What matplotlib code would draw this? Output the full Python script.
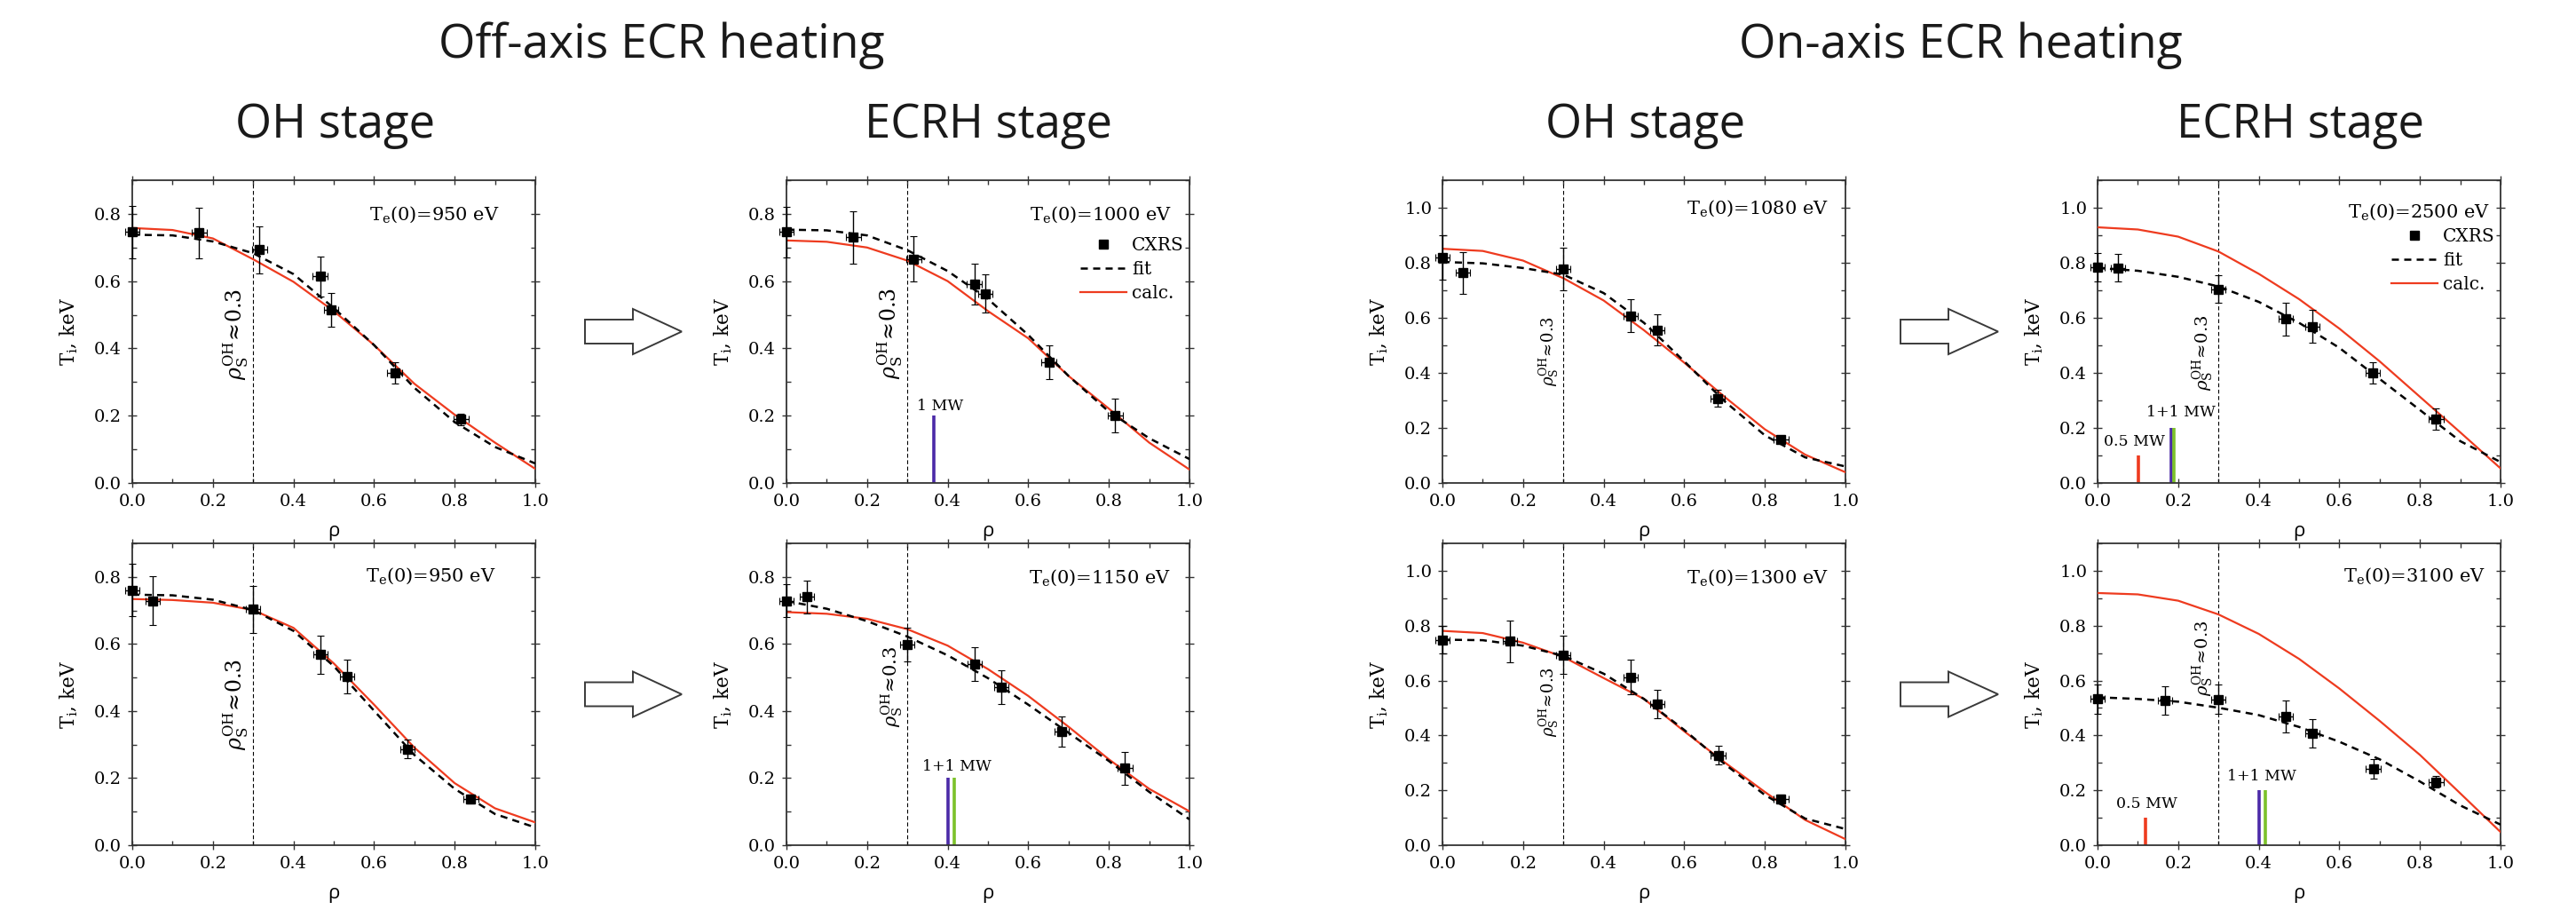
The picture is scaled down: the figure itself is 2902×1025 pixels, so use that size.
import matplotlib
matplotlib.use('Agg')
import matplotlib.pyplot as plt
from matplotlib.patches import Polygon
from matplotlib.lines import Line2D
from matplotlib.ticker import MultipleLocator

plt.rcParams['font.family'] = 'DejaVu Serif'
plt.rcParams['mathtext.fontset'] = 'dejavuserif'

# radial grid for the fit / calc curves
rho_grid = [0.0, 0.1, 0.2, 0.3, 0.4, 0.5, 0.6, 0.7, 0.8, 0.9, 1.0]

# CXRS measurement positions
rho_a = [0.0, 0.166, 0.316, 0.466, 0.493, 0.651, 0.816]
rho_b = [0.0, 0.05, 0.30, 0.467, 0.533, 0.683, 0.84]
rho_c = [0.0, 0.167, 0.30, 0.467, 0.533, 0.684, 0.84]
rho_err = 0.018

# off-axis, OH stage (top)
p1_ti = [0.746, 0.743, 0.694, 0.614, 0.515, 0.327, 0.189]
p1_err = [0.077, 0.075, 0.070, 0.060, 0.050, 0.032, 0.018]
p1_fit = [0.738, 0.736, 0.718, 0.683, 0.621, 0.520, 0.410, 0.283, 0.181, 0.107, 0.058]
p1_calc = [0.758, 0.752, 0.727, 0.665, 0.598, 0.511, 0.410, 0.295, 0.203, 0.120, 0.042]

# off-axis, ECRH stage (top)
p2_ti = [0.746, 0.730, 0.666, 0.591, 0.563, 0.360, 0.200]
p2_err = [0.075, 0.077, 0.067, 0.060, 0.057, 0.050, 0.050]
p2_fit = [0.753, 0.751, 0.736, 0.692, 0.630, 0.547, 0.440, 0.318, 0.212, 0.133, 0.071]
p2_calc = [0.721, 0.717, 0.700, 0.661, 0.600, 0.511, 0.430, 0.318, 0.221, 0.120, 0.040]

# on-axis, OH stage (top)
p3_ti = [0.819, 0.763, 0.778, 0.607, 0.556, 0.308, 0.158]
p3_err = [0.080, 0.077, 0.078, 0.060, 0.056, 0.030, 0.014]
p3_fit = [0.803, 0.798, 0.781, 0.757, 0.690, 0.582, 0.442, 0.297, 0.173, 0.093, 0.060]
p3_calc = [0.851, 0.843, 0.808, 0.744, 0.663, 0.555, 0.437, 0.313, 0.195, 0.103, 0.039]

# on-axis, ECRH stage (top)
p4_ti = [0.784, 0.781, 0.704, 0.596, 0.569, 0.400, 0.231]
p4_err = [0.051, 0.050, 0.050, 0.060, 0.060, 0.040, 0.039]
p4_fit = [0.781, 0.771, 0.749, 0.714, 0.658, 0.582, 0.491, 0.378, 0.265, 0.152, 0.076]
p4_calc = [0.929, 0.921, 0.895, 0.841, 0.760, 0.668, 0.561, 0.442, 0.313, 0.184, 0.053]

# off-axis, OH stage (bottom)
p5_ti = [0.760, 0.729, 0.703, 0.569, 0.503, 0.287, 0.138]
p5_err = [0.078, 0.073, 0.071, 0.057, 0.051, 0.028, 0.013]
p5_fit = [0.747, 0.745, 0.732, 0.701, 0.639, 0.534, 0.401, 0.269, 0.168, 0.093, 0.053]
p5_calc = [0.734, 0.731, 0.723, 0.701, 0.648, 0.542, 0.419, 0.291, 0.185, 0.110, 0.068]

# off-axis, ECRH stage (bottom)
p6_ti = [0.729, 0.740, 0.599, 0.541, 0.472, 0.340, 0.229]
p6_err = [0.050, 0.050, 0.050, 0.050, 0.050, 0.045, 0.050]
p6_fit = [0.728, 0.705, 0.668, 0.622, 0.566, 0.498, 0.419, 0.335, 0.251, 0.159, 0.077]
p6_calc = [0.695, 0.690, 0.675, 0.644, 0.595, 0.525, 0.445, 0.353, 0.256, 0.168, 0.101]

# on-axis, OH stage (bottom)
p7_ti = [0.748, 0.744, 0.693, 0.613, 0.514, 0.327, 0.169]
p7_err = [0.050, 0.076, 0.070, 0.062, 0.052, 0.034, 0.016]
p7_fit = [0.749, 0.747, 0.727, 0.690, 0.625, 0.533, 0.420, 0.296, 0.183, 0.097, 0.059]
p7_calc = [0.781, 0.773, 0.738, 0.686, 0.609, 0.533, 0.415, 0.302, 0.194, 0.092, 0.022]

# on-axis, ECRH stage (bottom)
p8_ti = [0.533, 0.528, 0.531, 0.469, 0.407, 0.278, 0.231]
p8_err = [0.053, 0.052, 0.053, 0.057, 0.052, 0.035, 0.022]
p8_fit = [0.539, 0.533, 0.523, 0.501, 0.474, 0.431, 0.377, 0.313, 0.232, 0.145, 0.075]
p8_calc = [0.919, 0.914, 0.891, 0.841, 0.770, 0.679, 0.571, 0.453, 0.329, 0.189, 0.048]

te0 = [950, 1000, 1080, 2500, 950, 1150, 1300, 3100]

# ECRH deposition: (rho, height, colour key)
ecrh_p2 = [(0.366, 0.2, 'blue')]
ecrh_p4 = [(0.101, 0.1, 'red'), (0.182, 0.2, 'blue'), (0.189, 0.2, 'green')]
ecrh_p6 = [(0.400, 0.2, 'blue'), (0.416, 0.2, 'green')]
ecrh_p8 = [(0.120, 0.1, 'red'), (0.400, 0.2, 'blue'), (0.416, 0.2, 'green')]
# power labels: (rho, y, text)
power_p2 = [(0.382, 0.205, '1 MW')]
power_p4 = [(0.091, 0.123, '0.5 MW'), (0.208, 0.229, '1+1 MW')]
power_p6 = [(0.422, 0.212, '1+1 MW')]
power_p8 = [(0.122, 0.124, '0.5 MW'), (0.408, 0.224, '1+1 MW')]

RED = '#ee3b1f'
bar_colors = {'red': '#ee3b1f', 'blue': '#4b2aa8', 'green': '#7cc22a'}

W, H = 2902, 1025
fig = plt.figure(figsize=(W / 100, H / 100), dpi=100)

lefts = [149, 886, 1625, 2363]
ax_w = 454
rows = [(203, 544), (612, 952)]


def make_ax(col, row):
    top, bot = rows[row]
    return fig.add_axes([lefts[col] / W, 1 - bot / H, ax_w / W, (bot - top) / H])


def draw_panel(ax, rho_pts, ti, err, fit, calc, ymax, te, te_pos, rho_txt_y, rho_txt_size,
               ecrh=(), power=(), legend_y=None):
    ax.set_xlim(0, 1)
    ax.set_ylim(0, ymax)
    ax.axvline(0.3, color='black', lw=0.8, dashes=(4, 2.5))
    ax.plot(rho_grid, calc, color=RED, lw=1.6, label='calc.', zorder=3)
    ax.plot(rho_grid, fit, color='black', lw=1.8, dashes=(3.2, 2.4), label='fit', zorder=4)
    ax.errorbar(rho_pts, ti, yerr=err, xerr=rho_err, fmt='s', color='black', ms=6.5,
                elinewidth=1.0, capsize=3, capthick=0.8, zorder=5, clip_on=False)
    for x, h, c in ecrh:
        ax.plot([x, x], [0, h], color=bar_colors[c], lw=2.6, solid_capstyle='butt', zorder=2)
    for x, y, t in power:
        ax.text(x, y, t, ha='center', va='bottom', fontsize=12.5)
    ax.text(te_pos[0], te_pos[1], r'T$_\mathrm{e}$(0)=%d eV' % te, transform=ax.transAxes,
            ha='right', va='center', fontsize=15)
    ax.text(0.292, rho_txt_y, r'$\rho_\mathrm{S}^\mathrm{OH}\!\approx\!0.3$', rotation=90,
            ha='right', va='center', fontsize=rho_txt_size)

    ax.xaxis.set_major_locator(MultipleLocator(0.2))
    ax.xaxis.set_minor_locator(MultipleLocator(0.1))
    ax.yaxis.set_major_locator(MultipleLocator(0.2))
    ax.yaxis.set_minor_locator(MultipleLocator(0.1))
    ax.tick_params(which='major', direction='inout', length=7, width=1.0, top=True, right=True,
                   labelsize=14, pad=5, color='#333333')
    ax.tick_params(which='minor', direction='in', length=3.5, width=1.0, top=True, right=True,
                   color='#333333')
    for s in ax.spines.values():
        s.set_linewidth(1.3)
        s.set_color('#333333')
    ax.set_xlabel('ρ', fontfamily='Open Sans', fontsize=16, labelpad=10)
    ax.set_ylabel(r'T$_\mathrm{i}$, keV', fontsize=15.5, labelpad=12)

    if legend_y is not None:
        handles = [Line2D([], [], marker='s', ls='none', color='black', ms=6.5),
                   Line2D([], [], color='black', lw=1.8, dashes=(3.2, 2.4)),
                   Line2D([], [], color=RED, lw=1.6)]
        ax.legend(handles, ['CXRS', 'fit', 'calc.'], loc='upper right',
                  bbox_to_anchor=(1.0, legend_y), frameon=False, fontsize=14.5,
                  handlelength=2.6, handletextpad=0.3, labelspacing=0.4, borderpad=0,
                  borderaxespad=0.3)


ax1 = make_ax(0, 0)
draw_panel(ax1, rho_a, p1_ti, p1_err, p1_fit, p1_calc, 0.9, te0[0], (0.912, 0.886), 0.443, 17)
ax2 = make_ax(1, 0)
draw_panel(ax2, rho_a, p2_ti, p2_err, p2_fit, p2_calc, 0.9, te0[1], (0.956, 0.886), 0.445, 17,
           ecrh_p2, power_p2, legend_y=0.83)
ax3 = make_ax(2, 0)
draw_panel(ax3, rho_b, p3_ti, p3_err, p3_fit, p3_calc, 1.1, te0[2], (0.957, 0.906), 0.48, 13)
ax4 = make_ax(3, 0)
draw_panel(ax4, rho_b, p4_ti, p4_err, p4_fit, p4_calc, 1.1, te0[3], (0.973, 0.896), 0.473, 14,
           ecrh_p4, power_p4, legend_y=0.86)
ax5 = make_ax(0, 1)
draw_panel(ax5, rho_b, p5_ti, p5_err, p5_fit, p5_calc, 0.9, te0[4], (0.902, 0.891), 0.42, 17)
ax6 = make_ax(1, 1)
draw_panel(ax6, rho_b, p6_ti, p6_err, p6_fit, p6_calc, 0.9, te0[5], (0.953, 0.887), 0.472, 15,
           ecrh_p6, power_p6)
ax7 = make_ax(2, 1)
draw_panel(ax7, rho_c, p7_ti, p7_err, p7_fit, p7_calc, 1.1, te0[6], (0.957, 0.886), 0.523, 13)
ax8 = make_ax(3, 1)
draw_panel(ax8, rho_c, p8_ti, p8_err, p8_fit, p8_calc, 1.1, te0[7], (0.962, 0.891), 0.682, 14,
           ecrh_p8, power_p8)


# hollow block arrows between stages (pixel coords -> figure fraction)
def block_arrow(x0, xb, xt, yc, shaft=27, head=51):
    pts = [(x0, yc - shaft / 2), (xb, yc - shaft / 2), (xb, yc - head / 2), (xt, yc),
           (xb, yc + head / 2), (xb, yc + shaft / 2), (x0, yc + shaft / 2)]
    pts = [(x / W, 1 - y / H) for x, y in pts]
    fig.patches.append(Polygon(pts, closed=True, transform=fig.transFigure, facecolor='white',
                               edgecolor='#3a3a3a', lw=1.4))


for yc in (373.5, 782):
    block_arrow(659, 713, 768, yc)
    block_arrow(2141, 2195, 2251, yc)

# headings
fig.text(745 / W, 1 - 65 / H, 'Off-axis ECR heating', ha='center', va='baseline',
         fontfamily='Open Sans', fontsize=38.5, color='#1a1a1a')
fig.text(2209 / W, 1 - 65 / H, 'On-axis ECR heating', ha='center', va='baseline',
         fontfamily='Open Sans', fontsize=38.5, color='#1a1a1a')
for xc, t in [(378, 'OH stage'), (1113, 'ECRH stage'), (1854, 'OH stage'), (2591, 'ECRH stage')]:
    fig.text(xc / W, 1 - 155 / H, t, ha='center', va='baseline', fontfamily='Open Sans',
             fontsize=38, color='#1a1a1a')

fig.savefig('out.png', dpi=100, facecolor='white')
